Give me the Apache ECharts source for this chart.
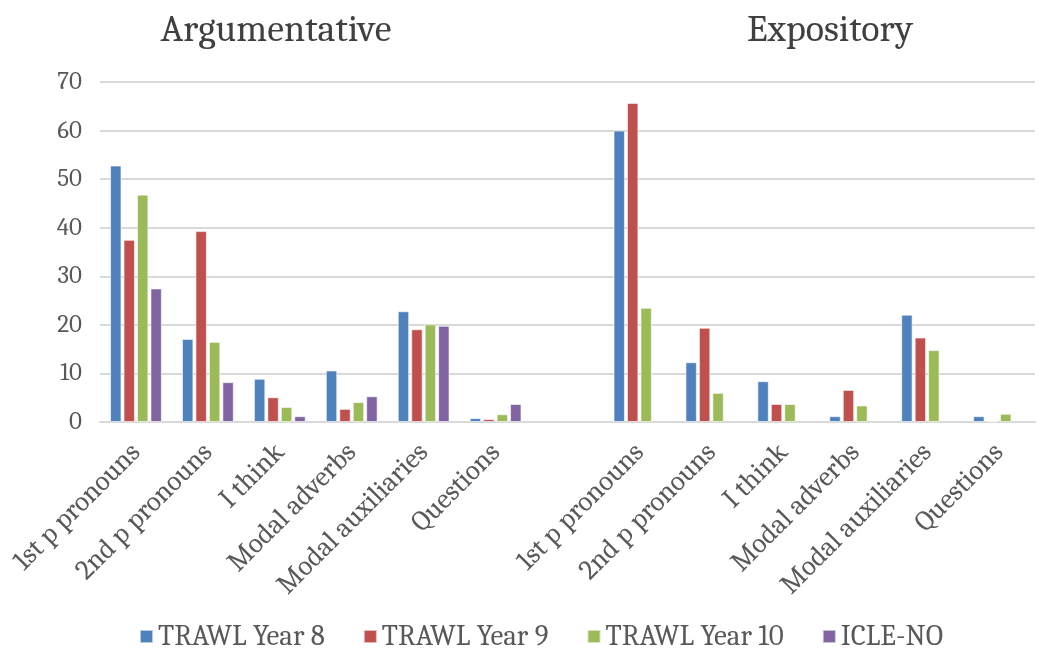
<!DOCTYPE html>
<html>
<head>
<meta charset="utf-8">
<script src="https://cdn.jsdelivr.net/npm/echarts@6/dist/echarts.min.js"></script>
<style>
  html, body { margin: 0; padding: 0; background: #fff; }
  #chart { width: 1038px; height: 653px; }
</style>
</head>
<body>
<div id="chart"></div>
<script>
// categories: argumentative group, empty spacer, expository group
var categories = ['1st p pronouns', '2nd p pronouns', 'I think', 'Modal adverbs', 'Modal auxiliaries', 'Questions',
  '',
  '1st p pronouns', '2nd p pronouns', 'I think', 'Modal adverbs', 'Modal auxiliaries', 'Questions'];
var seriesNames = ['TRAWL Year 8', 'TRAWL Year 9', 'TRAWL Year 10', 'ICLE-NO'];
var year8 = [52.8, 17.1, 8.9, 10.6, 22.8, 0.8, null, 60.0, 12.3, 8.4, 1.2, 22.1, 1.2];
var year9 = [37.5, 39.3, 5.1, 2.7, 19.1, 0.6, null, 65.7, 19.4, 3.7, 6.6, 17.4, 0.2];
var year10 = [46.8, 16.5, 3.1, 4.1, 20.1, 1.6, null, 23.5, 6.0, 3.7, 3.4, 14.8, 1.7];
var icleNo = [27.5, 8.2, 1.2, 5.3, 19.8, 3.7, null, null, null, null, null, null, null];
var yTicks = { min: 0, max: 70, interval: 10 };

var colors = ['#4f81bd', '#c0504d', '#9bbb59', '#8064a2'];
var font = 'Cambria, serif';

var chart = echarts.init(document.getElementById('chart'));

function bar(name, data, i) {
  return {
    name: name,
    type: 'bar',
    data: data,
    barGap: '18%',
    barCategoryGap: '28%',
    itemStyle: {
      color: colors[i],
      borderColor: 'rgba(255,255,255,0.6)',
      borderWidth: 1
    }
  };
}

var option = {
  animation: false,
  color: colors,
  textStyle: { fontFamily: font },
  title: [{
    text: 'Argumentative',
    left: 271, top: 6,
    textAlign: 'center',
    textStyle: { fontFamily: font, fontSize: 38, fontWeight: 'normal', color: '#404040' }
  }, {
    text: 'Expository',
    left: 825, top: 6,
    textAlign: 'center',
    textStyle: { fontFamily: font, fontSize: 38, fontWeight: 'normal', color: '#404040' }
  }],
  legend: {
    data: seriesNames,
    bottom: -3,
    left: 134,
    itemWidth: 13,
    itemHeight: 13,
    itemGap: 38,
    icon: 'rect',
    textStyle: { fontFamily: font, fontSize: 29, color: '#595959' }
  },
  grid: { left: 100, right: 3, top: 82, bottom: 231 },
  xAxis: {
    type: 'category',
    data: categories,
    axisTick: { show: false },
    axisLine: { lineStyle: { color: '#d9d9d9', width: 2 } },
    axisLabel: {
      rotate: 45,
      interval: 0,
      margin: 26,
      fontFamily: font,
      fontSize: 28,
      color: '#595959'
    }
  },
  yAxis: {
    type: 'value',
    min: yTicks.min,
    max: yTicks.max,
    interval: yTicks.interval,
    axisLine: { show: false },
    axisTick: { show: false },
    splitLine: { lineStyle: { color: '#d9d9d9', width: 2 } },
    axisLabel: { fontFamily: font, fontSize: 25, color: '#595959', margin: 18 }
  },
  series: [
    bar(seriesNames[0], year8, 0),
    bar(seriesNames[1], year9, 1),
    bar(seriesNames[2], year10, 2),
    bar(seriesNames[3], icleNo, 3)
  ]
};

chart.setOption(option);
</script>
</body>
</html>
